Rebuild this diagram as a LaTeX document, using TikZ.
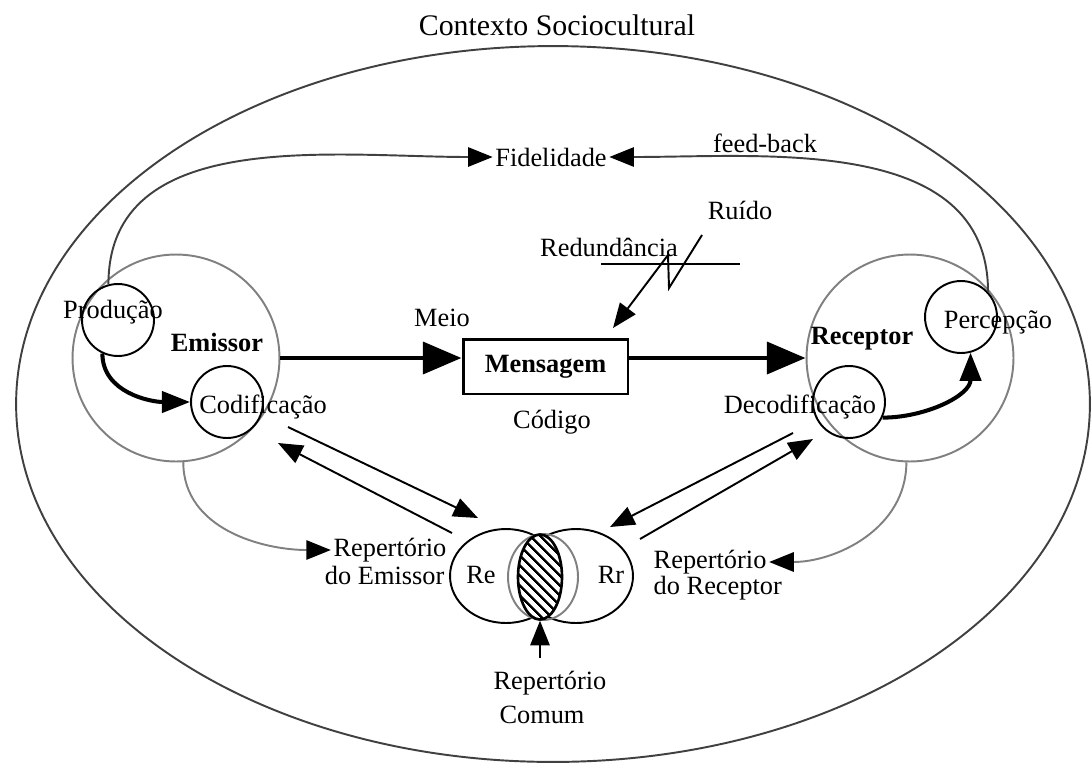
\documentclass[tikz,border=0pt]{standalone}
\usepackage{fontspec}
\setmainfont{Liberation Serif}
\usetikzlibrary{arrows.meta,patterns.meta,shapes.geometric}
\tikzset{every picture/.style={line width=1.1pt}}
\colorlet{ringgray}{black!50}
\colorlet{linegray}{black!75}

\begin{document}
\begin{tikzpicture}[x=0.02cm,y=-0.02cm,
  lbl/.style={font=\fontsize{15}{17}\selectfont,inner sep=1pt},
  bold/.style={font=\fontsize{15}{17}\selectfont\bfseries,inner sep=1pt},
  ring/.style={circle,draw=ringgray,minimum size=4.14cm,inner sep=0pt},
  ball/.style={circle,draw,minimum size=1.44cm,inner sep=0pt},
  venn/.style={ellipse,draw,minimum height=1.88cm,inner sep=0pt},
  msgbox/.style={draw,line width=1.7pt,minimum width=3.3cm,minimum height=1.1cm,
    font=\fontsize{15}{17}\selectfont\bfseries},
  bigarrow/.style={line width=2.8pt,-{Triangle[length=22pt,width=18pt]}},
  midarrow/.style={line width=2.3pt,-{Triangle[length=16pt,width=12pt]}},
  thinarrow/.style={-{Triangle[length=14pt,width=11pt]}},
  grayarrow/.style={draw=linegray,-{Triangle[black,length=14pt,width=11pt]}},
  ringarrow/.style={draw=ringgray,-{Triangle[black,length=14pt,width=11pt]}}]
\useasboundingbox (0,0) rectangle (1091,771);
%
\draw[linegray] (553,404) ellipse [x radius=10.74cm, y radius=7.16cm];
\node[lbl,font=\fontsize{17}{19}\selectfont] (title) at (557,25) {Contexto Sociocultural};
%
\node[lbl] (fidel) at (551,157) {Fidelidade};
\node[lbl] (feed) at (765,143) {feed-back};
\node[lbl] (ruido) at (740,210) {Ruído};
\node[lbl] (redund) at (609,247) {Redundância};
\node[lbl] (meio) at (442,318) {Meio};
\node[msgbox] (msg) at (545.5,366.5) {Mensagem};
\node[lbl] (cod) at (552,422) {Código};
%
\node[ring] (emis) at (176,358) {};
\node[ball] (prod) at (118,320) {};
\node[ball] (codif) at (227,402) {};
\node[bold] at (217,342) {Emissor};
\node[lbl] at (113,312) {Produção};
\node[lbl] at (263,407) {Codificação};
%
\node[ring] (rece) at (910,358) {};
\node[ball] (percep) at (961,317) {};
\node[ball] (decod) at (849,402) {};
\node[bold] at (862,339) {Receptor};
\node[lbl] at (998,322) {Percepção};
\node[lbl] at (800,407) {Decodificação};
%
\node[lbl,anchor=east] (repE) at (449,550) {Repertório};
\node[lbl,anchor=east] at (447,575) {do Emissor};
\node[lbl,anchor=west] (repR) at (651,562) {Repertório};
\node[lbl,anchor=west] at (651,588) {do Receptor};
%
\node[venn,minimum width=2.24cm] (re) at (506,576) {};
\node[venn,minimum width=2.28cm] (rr) at (576,576) {};
\node[ellipse,draw=ringgray,minimum width=1.4cm,minimum height=1.72cm] (halo) at (543,577) {};
\node[ellipse,draw,line width=1.5pt,minimum width=0.88cm,minimum height=1.7cm,
  preaction={fill=white},pattern={Lines[angle=-45,distance=4pt,line width=1.4pt]}] (lens) at (540,577) {};
\node[lbl] at (481,575) {Re};
\node[lbl] at (611,575) {Rr};
\node[lbl] (comum) at (550,683) {Repertório};
\node[lbl] at (542,715) {Comum};
%
\draw[bigarrow] (emis.east) -- (emis.east -| msg.west);
\draw[bigarrow] (msg.east |- rece.west) -- (rece.west);
\draw[midarrow] (prod.-115) to[out=-90,in=180] (codif.west);
\draw[midarrow] (decod.-25) to[out=0,in=-90] (percep.-75);
%
\draw[grayarrow] (prod.105) to[out=90,in=180] (fidel.west);
\draw[grayarrow] (percep.43) to[out=90,in=0] (fidel.east);
\draw[ringarrow] (emis.-86) to[out=-90,in=180] (repE.west);
\draw[ringarrow] (rece.-92) to[out=-90,in=0] (repR.east);
%
\coordinate (cA) at (288,427); \coordinate (cB) at (478,518);
\coordinate (cC) at (452,533); \coordinate (cD) at (278,443);
\coordinate (dA) at (793,433); \coordinate (dB) at (610,527);
\coordinate (dC) at (640,539); \coordinate (dD) at (813,439);
\draw[thinarrow] (cA) -- (cB);
\draw[thinarrow] (cC) -- (cD);
\draw[thinarrow] (dA) -- (dB);
\draw[thinarrow] (dC) -- (dD);
%
\coordinate (zz) at (702,235); \coordinate (rtip) at (613,328);
\draw (601,264) -- (740,264);
\draw[thinarrow] (zz) -- (669,288) -- (668,255) -- (rtip);
\draw[thinarrow,shorten <=6pt] (comum.north -| lens.south) -- (lens.south);
\end{tikzpicture}
\end{document}
